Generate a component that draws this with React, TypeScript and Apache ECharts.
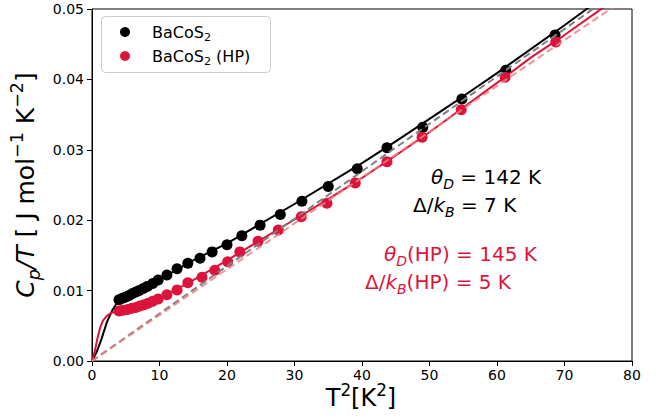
import React, { useEffect, useRef } from "react";
import * as echarts from "echarts";

// BaCoS2 measured points: T^2 (K^2), Cp/T (J mol^-1 K^-2)
const blackT2 = [4.0, 4.5, 5.0, 5.5, 6.0, 6.5, 7.0, 7.6, 8.2, 9.0, 9.8, 11.1, 12.6, 14.2, 16.0, 17.8, 20.0, 22.2, 24.9, 27.9, 31.1, 35.0, 39.3, 43.7, 49.0, 54.8, 61.3, 68.6];
const blackCpT = [0.0087, 0.0089, 0.0091, 0.0093, 0.0096, 0.0098, 0.01, 0.0103, 0.0106, 0.011, 0.0115, 0.0122, 0.0131, 0.0139, 0.0146, 0.0155, 0.0165, 0.0178, 0.0193, 0.0208, 0.0227, 0.0248, 0.0273, 0.0303, 0.0332, 0.0372, 0.0413, 0.0463];

// BaCoS2 (HP) measured points
const redT2 = [4.0, 4.6, 5.3, 5.9, 6.5, 7.1, 7.7, 8.3, 9.0, 9.8, 11.1, 12.6, 14.2, 16.3, 18.2, 20.1, 21.9, 24.6, 27.6, 31.0, 34.8, 39.0, 43.7, 48.9, 54.7, 61.2, 68.7];
const redCpT = [0.0071, 0.0072, 0.0073, 0.0075, 0.0076, 0.0078, 0.008, 0.0082, 0.0085, 0.0088, 0.0094, 0.0101, 0.0111, 0.0119, 0.0129, 0.0141, 0.0155, 0.017, 0.0186, 0.0205, 0.0224, 0.0253, 0.0283, 0.0318, 0.0357, 0.0403, 0.0453];

// Fit curves
const blackFitT2 = [0, 0.7, 1.4, 2.2, 3.0, 3.6, 4.2, 5.0, 6.0, 8.0, 10, 15, 20, 25, 30, 35, 40, 45, 50, 55, 60, 65, 70, 75];
const blackFitCpT = [0, 0.0013, 0.0031, 0.0055, 0.0072, 0.0081, 0.0087, 0.0091, 0.0096, 0.0105, 0.0116, 0.0143, 0.0167, 0.0195, 0.0223, 0.0252, 0.0281, 0.0312, 0.0344, 0.0376, 0.0409, 0.0443, 0.0477, 0.0512];
const redFitT2 = [0, 0.4, 0.8, 1.2, 1.6, 2.2, 2.8, 3.5, 4.5, 5.5, 6.5, 8, 10, 12, 15, 20, 25, 30, 35, 40, 45, 50, 55, 60, 65, 70, 75, 78];
const redFitCpT = [0, 0.0013, 0.0032, 0.0047, 0.0057, 0.0064, 0.0068, 0.007, 0.0071, 0.0073, 0.0076, 0.0081, 0.0089, 0.0099, 0.0115, 0.0143, 0.0172, 0.0201, 0.023, 0.026, 0.0292, 0.0325, 0.036, 0.0395, 0.0431, 0.0463, 0.0497, 0.0517];

// Debye (phonon) terms, straight lines through origin
const debyeT2 = [0, 80];
const debyeBlackCpT = [0, 0.0539];
const debyeRedCpT = [0, 0.0521];

const xTicks = [0, 80, 10];
const yTicks = [0, 0.05, 0.01];

const BLACK = "#000000";
const RED = "#dc143c";
const FONT = "DejaVu Sans";

const zip = (a: number[], b: number[]) => a.map((v, i) => [v, b[i]]);

const mathRich = (size: number, color: string) => ({
  n: { fontSize: size, fontFamily: FONT, color, lineHeight: size * 1.4 },
  i: { fontSize: size, fontFamily: FONT, fontStyle: "italic", color, lineHeight: size * 1.4 },
  sub: { fontSize: size * 0.7, fontFamily: FONT, color, lineHeight: size * 0.7, verticalAlign: "bottom" },
  isub: { fontSize: size * 0.7, fontFamily: FONT, fontStyle: "italic", color, lineHeight: size * 0.7, verticalAlign: "bottom" },
  sup: { fontSize: size * 0.7, fontFamily: FONT, color, lineHeight: size * 0.7, verticalAlign: "top" },
});

const textEl = (x: number, y: number, text: string, size: number, color: string, align = "left", rotation = 0) => ({
  type: "text",
  x,
  y,
  rotation,
  z: 110,
  style: {
    text,
    rich: mathRich(size, color),
    fill: color,
    align,
    verticalAlign: "middle",
    fontFamily: FONT,
    fontSize: size,
  },
});

export default function App() {
  const ref = useRef<HTMLDivElement>(null);
  useEffect(() => {
    const chart = echarts.init(ref.current!, null, { renderer: "svg" });
    const option = {
      animation: false,
      backgroundColor: "#ffffff",
      grid: { left: 92, right: 31, top: 9, bottom: 58, show: true, borderColor: "#000", borderWidth: 1, backgroundColor: "transparent" },
      xAxis: {
        type: "value",
        min: xTicks[0],
        max: xTicks[1],
        interval: xTicks[2],
        axisLine: { show: true, lineStyle: { color: "#000", width: 1 } },
        axisTick: { show: true, length: 5, lineStyle: { color: "#000" } },
        axisLabel: { fontSize: 14, color: "#000", fontFamily: FONT, margin: 7 },
        splitLine: { show: false },
      },
      yAxis: {
        type: "value",
        min: yTicks[0],
        max: yTicks[1],
        interval: yTicks[2],
        axisLine: { show: true, lineStyle: { color: "#000", width: 1 } },
        axisTick: { show: true, length: 5, lineStyle: { color: "#000" } },
        axisLabel: { fontSize: 14, color: "#000", fontFamily: FONT, margin: 8, formatter: (v: number) => v.toFixed(2) },
        splitLine: { show: false },
      },
      series: [
        {
          name: "BaCoS2",
          type: "scatter",
          data: zip(blackT2, blackCpT),
          symbol: "circle",
          symbolSize: 11,
          itemStyle: { color: BLACK, opacity: 1 },
          z: 3,
        },
        {
          name: "BaCoS2 (HP)",
          type: "scatter",
          data: zip(redT2, redCpT),
          symbol: "circle",
          symbolSize: 11,
          itemStyle: { color: RED, opacity: 1 },
          z: 3,
        },
        {
          type: "line",
          data: zip(blackFitT2, blackFitCpT),
          showSymbol: false,
          smooth: false,
          lineStyle: { color: BLACK, width: 2 },
          z: 4,
        },
        {
          type: "line",
          data: zip(redFitT2, redFitCpT),
          showSymbol: false,
          smooth: false,
          lineStyle: { color: RED, width: 2 },
          z: 4,
        },
        {
          type: "line",
          data: zip(debyeT2, debyeBlackCpT),
          showSymbol: false,
          lineStyle: { color: "#808080", width: 2, type: [7, 4] },
          z: 5,
        },
        {
          type: "line",
          data: zip(debyeT2, debyeRedCpT),
          showSymbol: false,
          lineStyle: { color: "#f08080", width: 2, type: [7, 4], opacity: 0.85 },
          z: 5,
        },
      ],
      graphic: [
        {
          type: "rect",
          z: 100,
          shape: { x: 101.5, y: 16.5, width: 169, height: 56, r: 4 },
          style: { fill: "rgba(255,255,255,0.8)", stroke: "#cccccc", lineWidth: 1 },
        },
        { type: "circle", z: 105, shape: { cx: 125, cy: 32, r: 5 }, style: { fill: BLACK } },
        { type: "circle", z: 105, shape: { cx: 125, cy: 56, r: 5 }, style: { fill: RED } },
        textEl(152, 32, "{n|BaCoS}{sub|2}", 16, "#000"),
        textEl(152, 56, "{n|BaCoS}{sub|2}{n| (HP)}", 16, "#000"),
        textEl(431, 177, "{i|θ}{isub|D}{n| = 142 K}", 20, BLACK),
        textEl(413, 205, "{n|Δ/}{i|k}{isub|B}{n| = 7 K}", 20, BLACK),
        textEl(384, 254, "{i|θ}{isub|D}{n|(HP) = 145 K}", 20, RED),
        textEl(365, 282, "{n|Δ/}{i|k}{isub|B}{n|(HP) = 5 K}", 20, RED),
        textEl(361, 398, "{n|T}{sup|2}{n|[K}{sup|2}{n|]}", 24, "#000", "center"),
        textEl(25, 185, "{i|C}{isub|p}{i|/T}{n| [ J mol}{sup|−1}{n| K}{sup|−2}{n|]}", 25, "#000", "center", Math.PI / 2),
      ],
    };
    chart.setOption(option as any);
    return () => chart.dispose();
  }, []);
  return <div ref={ref} style={{ position: "fixed", left: 0, top: 0, width: 663, height: 419 }} />;
}
